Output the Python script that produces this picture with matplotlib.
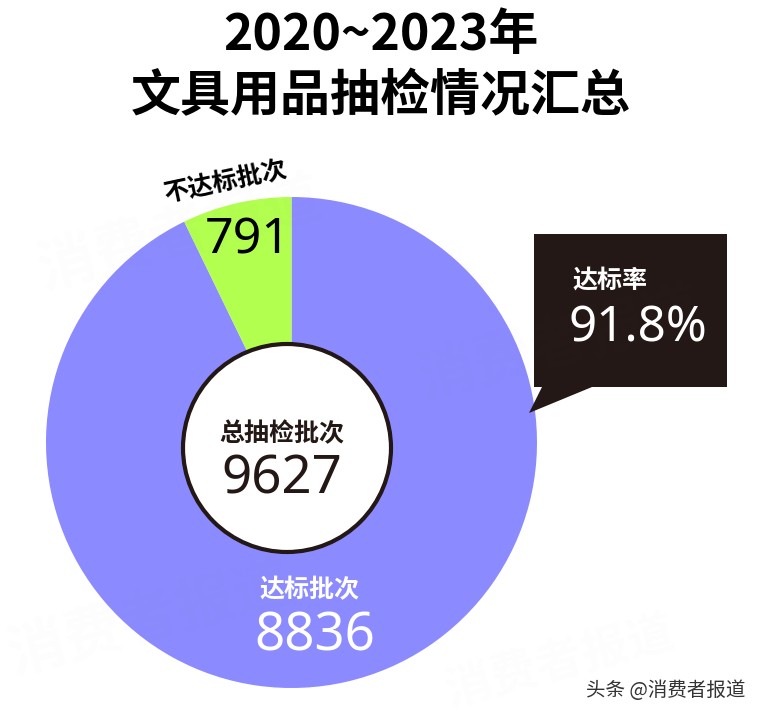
import matplotlib
matplotlib.use('Agg')
import matplotlib.pyplot as plt
from matplotlib.patches import Polygon, Circle

labels = ['达标批次', '不达标批次']
values = [8836, 791]
# angular shares as actually drawn in the picture (read from the slice edges)
drawn_shares = [92.8, 7.2]
colors = ['#8b8bff', '#b2ff4f']
title_lines = ['2020~2023年', '文具用品抽检情况汇总']
center_label = '总抽检批次'
center_value = '9627'
rate_label = '达标率'
rate_value = '91.8%'
footer = '头条 @消费者报道'
watermark = '消费者报道'

plt.rcParams['font.family'] = ['Noto Sans CJK SC', 'DejaVu Sans']
W, H = 763, 720
fig = plt.figure(figsize=(W/100, H/100), dpi=100, facecolor='white')

cx, cy, R = 291.5, 442.5, 245.5
pax = fig.add_axes([(cx-R)/W, 1-(cy+R)/H, 2*R/W, 2*R/H])
pax.pie(drawn_shares, colors=colors, startangle=90, counterclock=False, radius=1,
        wedgeprops=dict(linewidth=0))
pax.set_xlim(-1, 1); pax.set_ylim(-1, 1); pax.set_aspect('equal')

top = fig.add_axes([0, 0, 1, 1]); top.set_xlim(0, W); top.set_ylim(H, 0); top.axis('off')
top.patch.set_alpha(0)
top.add_patch(Circle((287, 448), 104, fc='white', ec='#231815', lw=3))
top.add_patch(Polygon([(534, 234), (727, 234), (727, 387), (592, 387), (529, 413), (542, 387), (534, 387)],
                      closed=True, fc='#231815', ec='none'))
dark = '#231815'
num = ['Noto Sans', 'DejaVu Sans']
for (x, y, fs) in [(150, 620, 42), (560, 662, 34), (180, 235, 42), (560, 345, 42)]:
    top.text(x, y, watermark, fontsize=fs, rotation=15, ha='center', va='center',
             color='#888888', alpha=0.02, fontweight='bold')
top.text(381, 36, title_lines[0], fontsize=36, fontweight='black', ha='center', va='center', color='black')
top.text(381, 97, title_lines[1], fontsize=36, fontweight='black', ha='center', va='center', color='black')
top.text(225, 182, labels[1], fontsize=18, fontweight='bold', ha='center', va='center', rotation=12, color='black')
top.text(248, 240, str(values[1]), fontsize=36, fontweight='medium', ha='center', va='center', color='black', family=num)
top.text(282, 434, center_label, fontsize=18, fontweight='bold', ha='center', va='center', color=dark)
top.text(282, 480, center_value, fontsize=38, fontweight='medium', ha='center', va='center', color=dark, family=num)
top.text(309, 590, labels[0], fontsize=18, fontweight='bold', ha='center', va='center', color='white')
top.text(315, 637, str(values[0]), fontsize=38, fontweight='medium', ha='center', va='center', color='white', family=num)
top.text(610, 281, rate_label, fontsize=18, fontweight='bold', ha='center', va='center', color='white')
top.text(638, 328, rate_value, fontsize=35.5, fontweight='medium', ha='center', va='center', color='white', family=num)
top.text(666, 691, footer, fontsize=14, ha='center', va='center', color='#333333')
fig.savefig('out.png', dpi=100)
